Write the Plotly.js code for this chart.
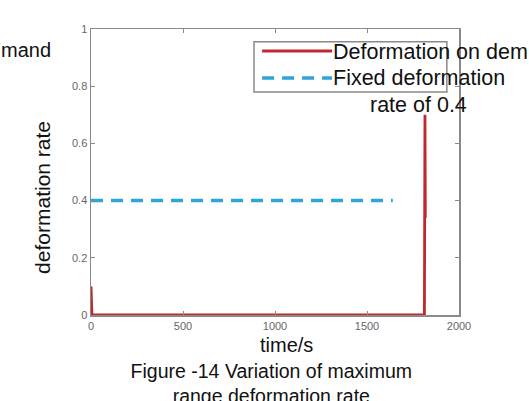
<!DOCTYPE html>
<html><head><meta charset="utf-8">
<script src="https://cdn.plot.ly/plotly-3.0.1.min.js"></script>
<style>html,body{margin:0;padding:0;background:#fff;}#chart{width:529px;height:401px;}</style>
</head><body><div id="chart"></div>
<script>
// Data
const timeDemand = [0, 5, 1812, 1815, 1817];
const rateDemand = [0.1, 0, 0, 0.7, 0.34];
const timeFixed = [0, 1640];
const rateFixed = [0.4, 0.4];
const xTicks = [0, 500, 1000, 1500, 2000];
const yTicks = [0, 0.2, 0.4, 0.6, 0.8, 1];
const legendNames = ["Deformation on dem", "Fixed deformation", "rate of 0.4"];

const red = "#c1272d", blue = "#2fa4d8";
const traces = [
  {x: timeDemand, y: rateDemand, type: "scatter", mode: "lines", line: {color: red, width: 2.8}, showlegend: false, cliponaxis: false},
  {x: timeFixed, y: rateFixed, type: "scatter", mode: "lines", line: {color: blue, width: 3.5, dash: "12px,8px"}, showlegend: false}
];
const axisCommon = {showline: true, mirror: "ticks", linecolor: "#8a8a8a", linewidth: 1.5, ticks: "inside", ticklen: 4, tickcolor: "#8a8a8a", showgrid: false, zeroline: false,
  tickfont: {family: "Liberation Sans Narrow, Liberation Sans, Arial", size: 11, color: "#666"}};
const fontMain = "Liberation Sans, Arial, sans-serif";
const layout = {
  width: 529, height: 401,
  margin: {l: 91, r: 70, t: 29, b: 86},
  paper_bgcolor: "#fff", plot_bgcolor: "#fff",
  showlegend: false,
  xaxis: Object.assign({}, axisCommon, {range: [0, 2000], tickvals: xTicks, ticktext: xTicks.map(String)}),
  yaxis: Object.assign({}, axisCommon, {range: [0, 1], tickvals: yTicks, ticktext: yTicks.map(String)}),
  title: {text: "Figure -14 Variation of maximum<br>range deformation rate", font: {family: fontMain, size: 19.5, color: "#111"},
    xref: "paper", x: 0.49, xanchor: "center", yref: "container", y: 1 - 378/401, yanchor: "top"},
  shapes: [
    {type: "rect", xref: "paper", yref: "paper", x0: 0.443, x1: 0.967, y0: 0.780, y1: 0.955, line: {color: "#8a8a8a", width: 1.5}, fillcolor: "rgba(255,255,255,1)", layer: "above"},
    {type: "line", xref: "paper", yref: "paper", x0: 0.465, x1: 0.655, y0: 0.923, y1: 0.923, line: {color: red, width: 2.8}},
    {type: "line", xref: "paper", yref: "paper", x0: 0.465, x1: 0.655, y0: 0.829, y1: 0.829, line: {color: blue, width: 3.5, dash: "12px,8px"}}
  ],
  annotations: [
    {text: legendNames[0], xref: "paper", yref: "paper", x: 0.652, y: 0.918, xanchor: "left", yanchor: "middle", showarrow: false, font: {family: fontMain, size: 21.5, color: "#111"}},
    {text: legendNames[1], xref: "paper", yref: "paper", x: 0.652, y: 0.829, xanchor: "left", yanchor: "middle", showarrow: false, font: {family: fontMain, size: 21.5, color: "#111"}},
    {text: legendNames[2], xref: "paper", yref: "paper", x: 0.752, y: 0.736, xanchor: "left", yanchor: "middle", showarrow: false, font: {family: fontMain, size: 21.5, color: "#111"}},
    {text: "mand", xref: "paper", yref: "paper", x: -0.25, y: 0.925, xanchor: "left", yanchor: "middle", showarrow: false, font: {family: fontMain, size: 20, color: "#111"}},
    {text: "time/s", xref: "paper", yref: "paper", x: 0.532, y: -0.105, xanchor: "center", yanchor: "middle", showarrow: false, font: {family: fontMain, size: 20, color: "#111"}},
    {text: "deformation rate", xref: "paper", yref: "paper", x: -0.13, y: 0.41, xanchor: "center", yanchor: "middle", textangle: -90, showarrow: false, font: {family: fontMain, size: 21, color: "#111"}}
  ]
};
Plotly.newPlot("chart", traces, layout, {staticPlot: true, displayModeBar: false});
</script></body></html>
